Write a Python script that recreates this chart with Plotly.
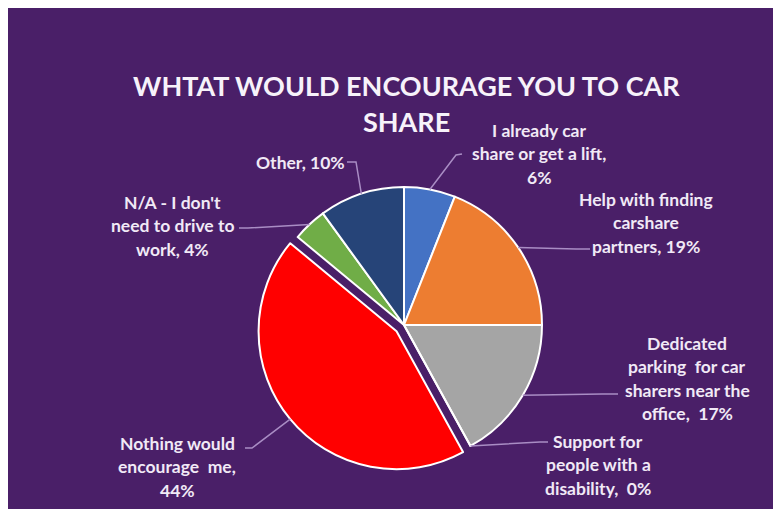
import math
import plotly.graph_objects as go

# ---- data ----
categories = [
    "I already car share or get a lift",
    "Help with finding carshare partners",
    "Dedicated parking for car sharers near the office",
    "Support for people with a disability",
    "Nothing would encourage me",
    "N/A - I don't need to drive to work",
    "Other",
]
values = [6, 19, 17, 0, 44, 4, 10]
label_lines = [
    ["I already car", "share or get a lift,", "{p}%"],
    ["Help with finding", "carshare", "partners, {p}%"],
    ["Dedicated", "parking  for car", "sharers near the", "office,  {p}%"],
    ["Support for", "people with a", "disability,  {p}%"],
    ["Nothing would", "encourage  me,", "{p}%"],
    ["N/A - I don't", "need to drive to", "work, {p}%"],
    ["Other, {p}%"],
]
title_lines = ["WHTAT WOULD ENCOURAGE YOU TO CAR", "SHARE"]

# ---- styles / layout ----
colors = ["#4472C4", "#ED7D31", "#A5A5A5", "#FFC000", "#FF0000", "#70AD47", "#264478"]
pulls = [0, 0, 0, 0, 0.07, 0, 0]
BG = "#4A1F68"
TXT = "#F1E9F6"
LINE = "#A98DC4"
FONT = "Lato"

W, H = 773, 509
CX, CY, R = 404, 325, 138
maxpull = max(pulls)
half = R * (1 + maxpull)

# label placement: (center x, first line y) in px; attach point and elbow of leader line
label_pos = [(539, 130), (646, 199), (687, 343), (598, 441), (177, 443), (172, 202), (300, 162)]
attach = [(462, 154), (590, 249), (618, 394), (548, 442), (245, 448), (239, 228), (347, 162)]
elbow = [(456, 155), (576, 249), (602, 394), (540, 442), (252, 448), (248, 228), (356, 162)]
LSP = 23.5


def px(x, y):
    return x / W, 1 - y / H


fig = go.Figure(
    go.Pie(
        labels=categories,
        values=values,
        sort=False,
        direction="clockwise",
        rotation=0,
        pull=pulls,
        textinfo="none",
        hoverinfo="label+percent",
        marker=dict(colors=colors, line=dict(color="white", width=2)),
        showlegend=False,
        domain=dict(
            x=[(CX - half) / W, (CX + half) / W],
            y=[(H - CY - half) / H, (H - CY + half) / H],
        ),
    )
)

annotations = []
shapes = []
total = sum(values)
cum = 0
for i, v in enumerate(values):
    f = (cum + v / 2) / total
    cum += v
    th = 2 * math.pi * f
    dist = R * (1 + pulls[i])
    axp = CX + dist * math.sin(th)
    ayp = CY - dist * math.cos(th)
    lx, ly = label_pos[i]
    for j, line in enumerate(label_lines[i]):
        x, y = px(lx, ly + j * LSP)
        annotations.append(
            dict(
                x=x, y=y, xref="paper", yref="paper", showarrow=False,
                text="<b>" + line.format(p=v) + "</b>",
                font=dict(family=FONT, size=17.5, color=TXT),
                xanchor="center", yanchor="middle",
            )
        )
    p0 = px(axp, ayp)
    p1 = px(*elbow[i])
    p2 = px(*attach[i])
    shapes.append(
        dict(
            type="path", xref="paper", yref="paper",
            path=f"M {p0[0]} {p0[1]} L {p1[0]} {p1[1]} L {p2[0]} {p2[1]}",
            line=dict(color=LINE, width=1.5),
        )
    )

for j, t in enumerate(title_lines):
    x, y = px(406, 86 + j * 36)
    annotations.append(
        dict(
            x=x, y=y, xref="paper", yref="paper", showarrow=False,
            text="<b>" + t + "</b>",
            font=dict(family=FONT, size=27, color="#F7F2FA"),
            xanchor="center", yanchor="middle",
        )
    )

# white border strips at left and top
shapes.append(dict(type="rect", xref="paper", yref="paper", x0=0, x1=8 / W, y0=0, y1=1,
                   fillcolor="white", line=dict(width=0), layer="above"))
shapes.append(dict(type="rect", xref="paper", yref="paper", x0=0, x1=1, y0=1 - 8 / H, y1=1,
                   fillcolor="white", line=dict(width=0), layer="above"))

fig.update_layout(
    width=W, height=H,
    margin=dict(l=0, r=0, t=0, b=0),
    paper_bgcolor=BG,
    annotations=annotations,
    shapes=shapes,
)

fig.write_html(
    "out.html",
    post_script="document.body.style.margin='0';document.body.style.background='" + BG + "';",
)
